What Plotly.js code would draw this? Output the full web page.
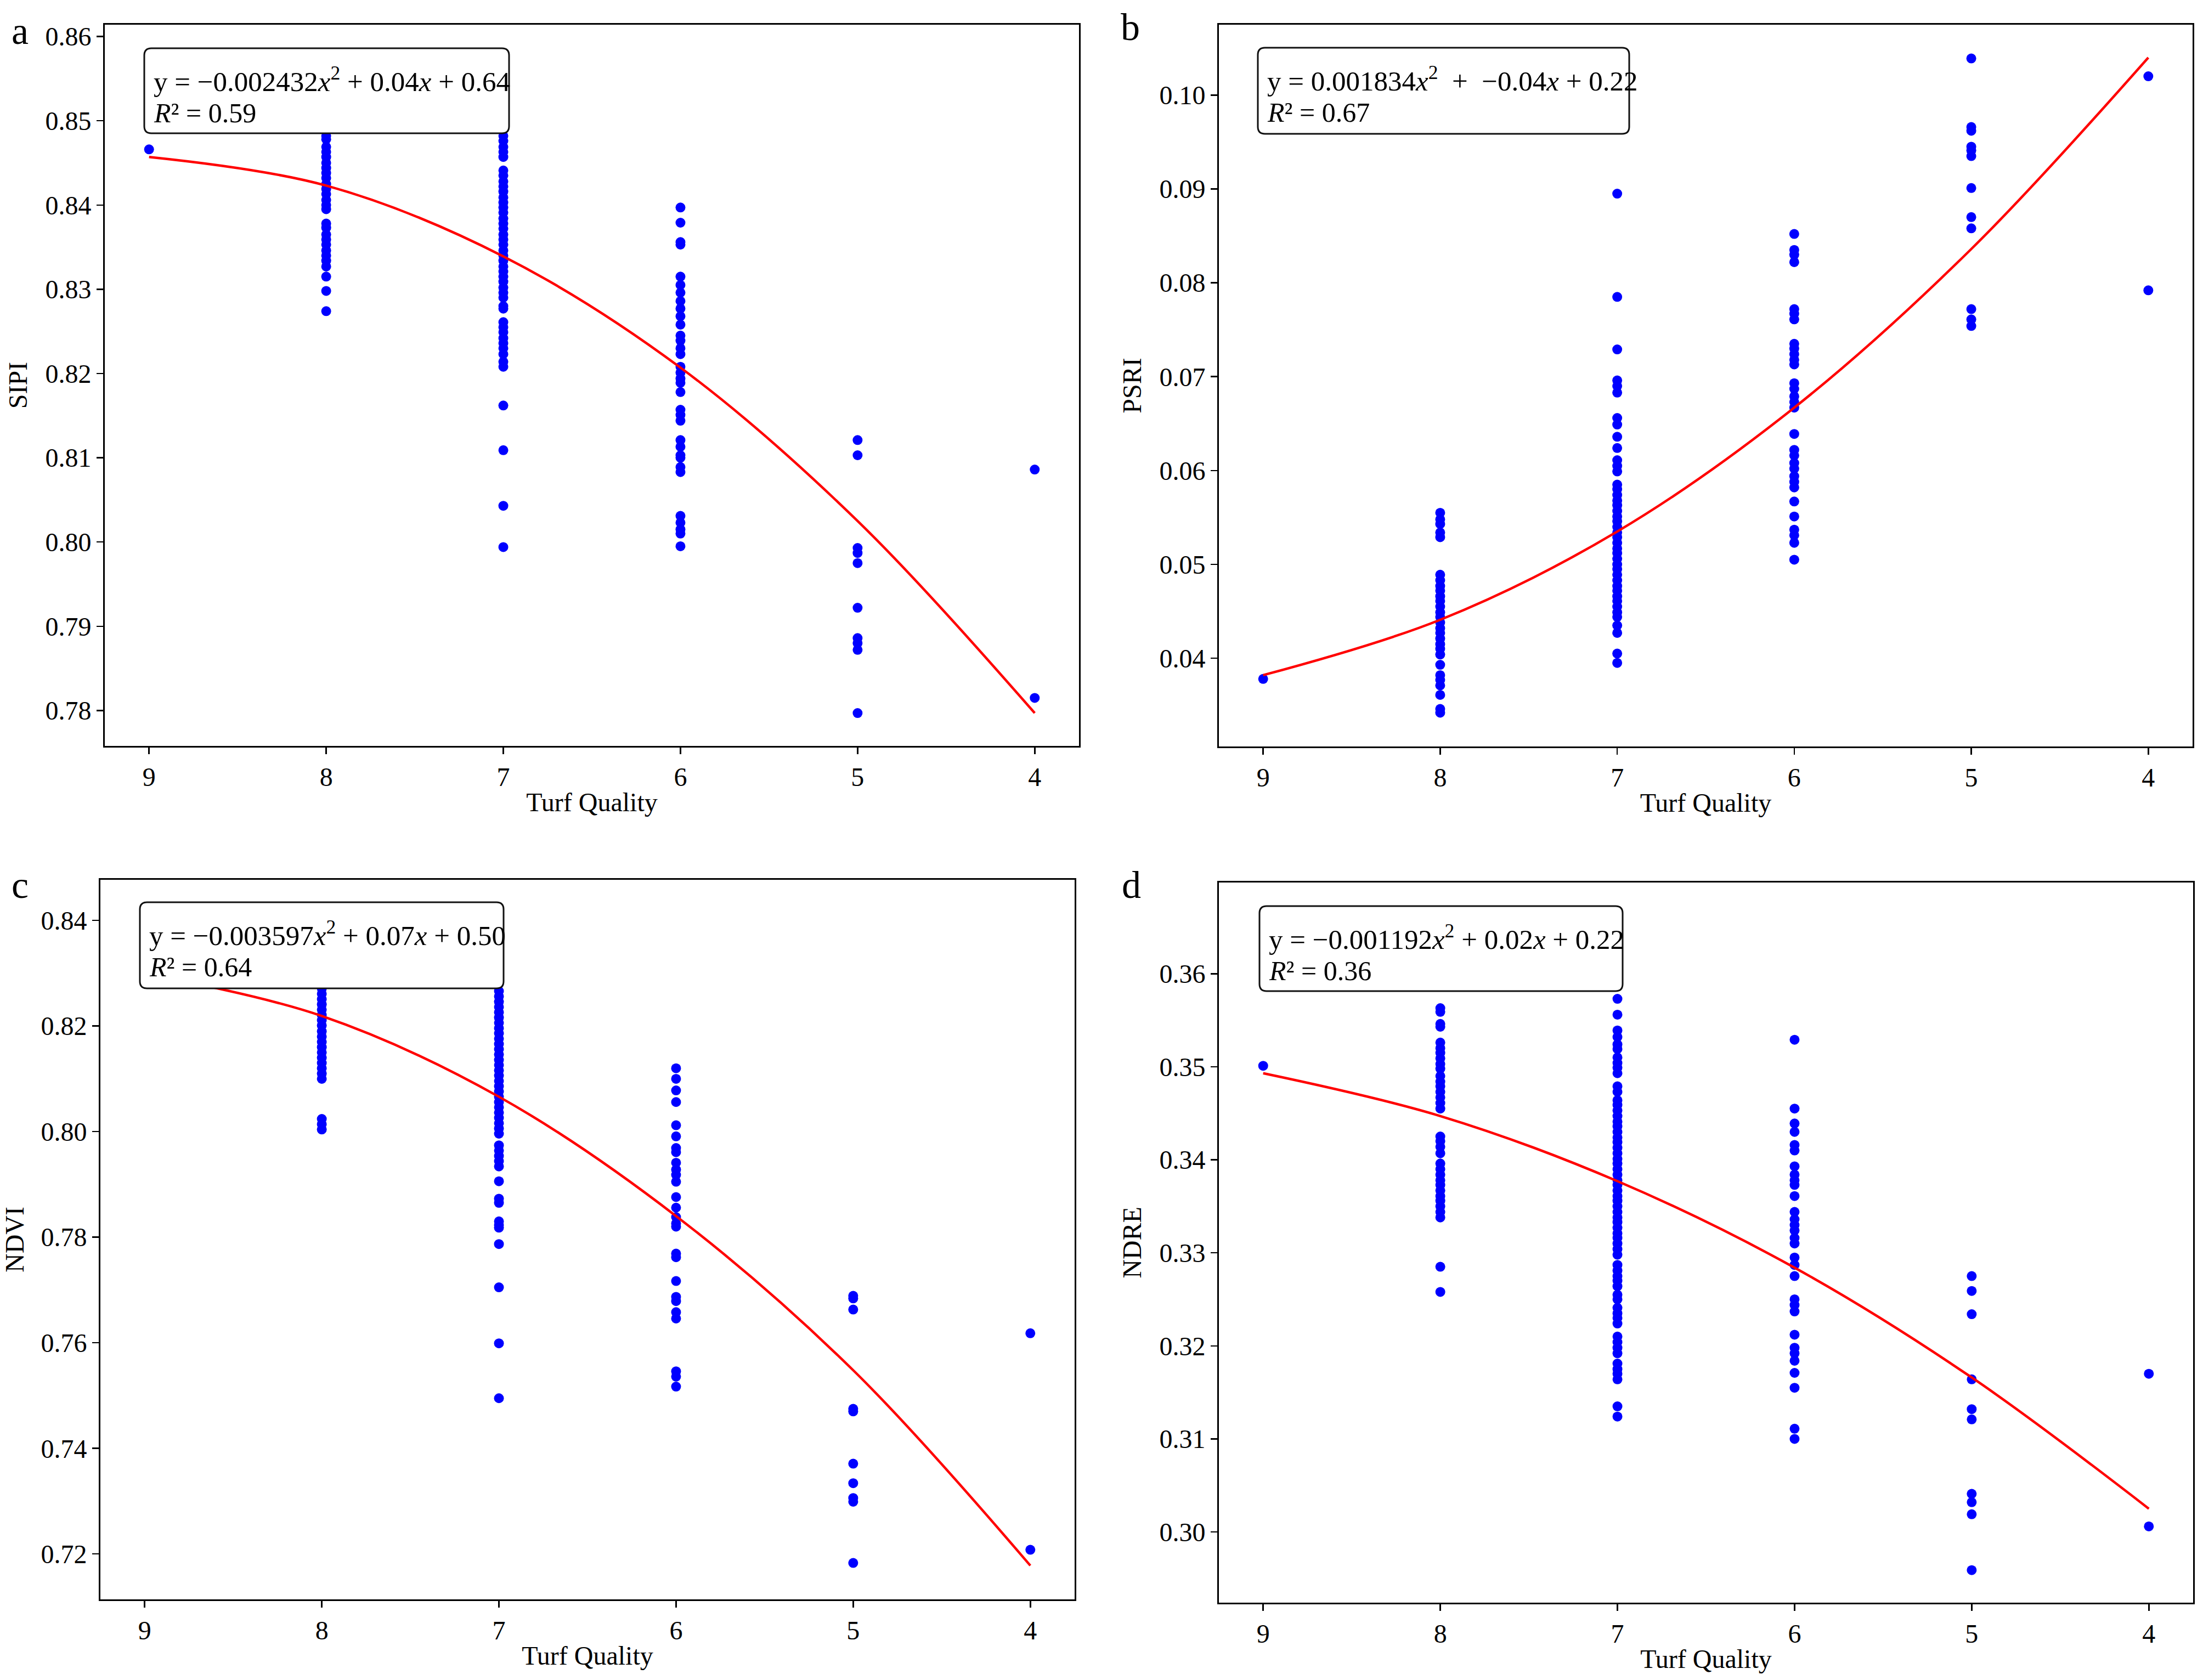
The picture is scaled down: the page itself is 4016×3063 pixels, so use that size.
<!DOCTYPE html>
<html>
<head>
<meta charset="utf-8">
<script src="https://cdn.plot.ly/plotly-3.0.1.min.js"></script>
<style>
  html, body { margin: 0; padding: 0; background: #fff; }
  #chart { width: 4016px; height: 3063px; }
</style>
</head>
<body>
<div id="chart"></div>
<script>
// turf quality levels on the x axis (drawn reversed, 9 -> 4)
const qualityLevels = [9, 8, 7, 6, 5, 4];

// a - SIPI
const sipi9 = [0.8466];
const sipi8 = [0.8505, 0.8495, 0.8482, 0.8478, 0.8469, 0.8463, 0.8457, 0.8450, 0.8444, 0.8438, 0.8432, 0.8425, 0.8419, 0.8413, 0.8406, 0.8400, 0.8395, 0.8378, 0.8373, 0.8365, 0.8359, 0.8353, 0.8346, 0.8340, 0.8334, 0.8327, 0.8315, 0.8298, 0.8274];
const sipi7 = [0.8505, 0.8495, 0.8482, 0.8476, 0.8469, 0.8463, 0.8457, 0.8441, 0.8435, 0.8428, 0.8422, 0.8416, 0.8409, 0.8403, 0.8397, 0.8391, 0.8384, 0.8378, 0.8372, 0.8365, 0.8359, 0.8353, 0.8346, 0.8340, 0.8334, 0.8327, 0.8321, 0.8315, 0.8309, 0.8302, 0.8296, 0.8290, 0.8280, 0.8277, 0.8261, 0.8255, 0.8249, 0.8242, 0.8236, 0.8230, 0.8223, 0.8214, 0.8208, 0.8162, 0.8109, 0.8043, 0.7994];
const sipi6 = [0.8397, 0.8379, 0.8356, 0.8353, 0.8315, 0.8305, 0.8296, 0.8286, 0.8277, 0.8268, 0.8258, 0.8245, 0.8239, 0.8230, 0.8223, 0.8208, 0.8201, 0.8194, 0.8189, 0.8178, 0.8157, 0.8151, 0.8144, 0.8121, 0.8113, 0.8103, 0.8100, 0.8089, 0.8083, 0.8031, 0.8023, 0.8015, 0.8010, 0.7995];
const sipi5 = [0.8121, 0.8103, 0.7993, 0.7987, 0.7975, 0.7922, 0.7886, 0.7880, 0.7872, 0.7797];
const sipi4 = [0.8086, 0.7815];
const sipiFit = [0.8457, 0.8423, 0.8339, 0.8207, 0.8025, 0.7797];

// b - PSRI
const psri9 = [0.0378];
const psri8 = [0.0555, 0.0548, 0.0543, 0.0534, 0.0529, 0.0489, 0.0483, 0.0477, 0.0472, 0.0466, 0.0461, 0.0455, 0.0449, 0.0444, 0.0438, 0.0432, 0.0427, 0.0421, 0.0415, 0.0410, 0.0404, 0.0393, 0.0382, 0.0377, 0.0371, 0.0361, 0.0346, 0.0342];
const psri7 = [0.0895, 0.0785, 0.0729, 0.0696, 0.0690, 0.0683, 0.0656, 0.0649, 0.0636, 0.0624, 0.0611, 0.0605, 0.0599, 0.0585, 0.0580, 0.0574, 0.0568, 0.0563, 0.0557, 0.0551, 0.0546, 0.0540, 0.0534, 0.0529, 0.0523, 0.0517, 0.0512, 0.0506, 0.0500, 0.0495, 0.0489, 0.0483, 0.0477, 0.0472, 0.0466, 0.0461, 0.0455, 0.0449, 0.0444, 0.0435, 0.0427, 0.0405, 0.0395];
const psri6 = [0.0852, 0.0835, 0.0830, 0.0822, 0.0772, 0.0767, 0.0761, 0.0735, 0.0730, 0.0724, 0.0718, 0.0713, 0.0693, 0.0687, 0.0679, 0.0673, 0.0667, 0.0639, 0.0622, 0.0616, 0.0608, 0.0602, 0.0594, 0.0588, 0.0582, 0.0567, 0.0551, 0.0537, 0.0531, 0.0523, 0.0505];
const psri5 = [0.1039, 0.0966, 0.0962, 0.0945, 0.0941, 0.0935, 0.0901, 0.0870, 0.0858, 0.0772, 0.0761, 0.0754];
const psri4 = [0.1020, 0.0792];
const psriFit = [0.0382, 0.0441, 0.0535, 0.0667, 0.0836, 0.1040];

// c - NDVI
const ndvi9 = [0.8310];
const ndvi8 = [0.8300, 0.8285, 0.8271, 0.8261, 0.8251, 0.8241, 0.8231, 0.8221, 0.8211, 0.8201, 0.8190, 0.8180, 0.8170, 0.8160, 0.8150, 0.8140, 0.8130, 0.8120, 0.8110, 0.8100, 0.8024, 0.8014, 0.8004];
const ndvi7 = [0.8300, 0.8280, 0.8266, 0.8256, 0.8246, 0.8236, 0.8226, 0.8216, 0.8206, 0.8196, 0.8186, 0.8176, 0.8166, 0.8156, 0.8146, 0.8136, 0.8126, 0.8116, 0.8106, 0.8096, 0.8086, 0.8076, 0.8066, 0.8056, 0.8046, 0.8036, 0.8026, 0.8016, 0.8006, 0.7996, 0.7974, 0.7964, 0.7954, 0.7944, 0.7934, 0.7906, 0.7873, 0.7865, 0.7830, 0.7823, 0.7818, 0.7787, 0.7705, 0.7599, 0.7495];
const ndvi6 = [0.8120, 0.8100, 0.8078, 0.8056, 0.8012, 0.7991, 0.7969, 0.7961, 0.7941, 0.7928, 0.7918, 0.7905, 0.7876, 0.7856, 0.7838, 0.7826, 0.7820, 0.7769, 0.7762, 0.7717, 0.7687, 0.7679, 0.7658, 0.7646, 0.7546, 0.7536, 0.7517];
const ndvi5 = [0.7689, 0.7684, 0.7663, 0.7475, 0.7470, 0.7371, 0.7334, 0.7306, 0.7299, 0.7183];
const ndvi4 = [0.7618, 0.7208];
const ndviFit = [0.8299, 0.8219, 0.8066, 0.7840, 0.7548, 0.7178];

// d - NDRE
const ndre9 = [0.3501];
const ndre8 = [0.3563, 0.3559, 0.3546, 0.3543, 0.3526, 0.3520, 0.3515, 0.3509, 0.3503, 0.3498, 0.3490, 0.3484, 0.3479, 0.3473, 0.3467, 0.3461, 0.3455, 0.3425, 0.3420, 0.3414, 0.3407, 0.3396, 0.3390, 0.3384, 0.3378, 0.3373, 0.3367, 0.3361, 0.3356, 0.3350, 0.3344, 0.3338, 0.3285, 0.3258];
const ndre7 = [0.3573, 0.3556, 0.3539, 0.3532, 0.3524, 0.3519, 0.3510, 0.3504, 0.3499, 0.3493, 0.3479, 0.3473, 0.3464, 0.3459, 0.3453, 0.3447, 0.3441, 0.3436, 0.3430, 0.3424, 0.3419, 0.3413, 0.3407, 0.3401, 0.3396, 0.3390, 0.3384, 0.3378, 0.3373, 0.3367, 0.3361, 0.3356, 0.3350, 0.3344, 0.3338, 0.3333, 0.3327, 0.3321, 0.3316, 0.3310, 0.3304, 0.3298, 0.3287, 0.3281, 0.3275, 0.3270, 0.3264, 0.3255, 0.3250, 0.3241, 0.3235, 0.3230, 0.3224, 0.3210, 0.3204, 0.3198, 0.3192, 0.3181, 0.3175, 0.3170, 0.3164, 0.3135, 0.3124];
const ndre6 = [0.3529, 0.3455, 0.3439, 0.3430, 0.3416, 0.3410, 0.3393, 0.3384, 0.3378, 0.3373, 0.3361, 0.3344, 0.3336, 0.3330, 0.3324, 0.3316, 0.3310, 0.3295, 0.3287, 0.3275, 0.3250, 0.3244, 0.3237, 0.3212, 0.3198, 0.3192, 0.3184, 0.3171, 0.3155, 0.3111, 0.3100];
const ndre5 = [0.3275, 0.3259, 0.3234, 0.3164, 0.3132, 0.3121, 0.3041, 0.3032, 0.3019, 0.2959];
const ndre4 = [0.3170, 0.3006];
const ndreFit = [0.3493, 0.3447, 0.3377, 0.3284, 0.3166, 0.3025];

const panelLetters = ["a", "b", "c", "d"];
const indexNames = ["SIPI", "PSRI", "NDVI", "NDRE"];
const fitEquations = [
    "y = \u22120.002432<i>x</i><sup>2</sup> + 0.04<i>x</i> + 0.64",
    "y = 0.001834<i>x</i><sup>2</sup>  +  \u22120.04<i>x</i> + 0.22",
    "y = \u22120.003597<i>x</i><sup>2</sup> + 0.07<i>x</i> + 0.50",
    "y = \u22120.001192<i>x</i><sup>2</sup> + 0.02<i>x</i> + 0.22"
];
const fitR2 = ["0.59", "0.67", "0.64", "0.36"];

const W = 4016, H = 3063;
const FONT = "Liberation Serif, Times New Roman, serif";

// pixel geometry of each panel: plot box, equation box, letter spot
const panels = [
    { cols: [sipi9, sipi8, sipi7, sipi6, sipi5, sipi4], fit: sipiFit,
      box: [191, 45, 1967, 1360], yRange: [0.7758, 0.8614], dtick: 0.01,
      eq: [263, 88, 928, 243], letter: [36, 56], yStand: 18 },
    { cols: [psri9, psri8, psri7, psri6, psri5, psri4], fit: psriFit,
      box: [2222, 45, 3997, 1361], yRange: [0.0306, 0.1075], dtick: 0.01,
      eq: [2293, 87, 2970, 244], letter: [2060, 50], yStand: 18 },
    { cols: [ndvi9, ndvi8, ndvi7, ndvi6, ndvi5, ndvi4], fit: ndviFit,
      box: [183, 1604, 1959, 2916], yRange: [0.7114, 0.8477], dtick: 0.02,
      eq: [255, 1645, 918, 1802], letter: [36, 1613], yStand: 20 },
    { cols: [ndre9, ndre8, ndre7, ndre6, ndre5, ndre4], fit: ndreFit,
      box: [2222, 1609, 3998, 2922], yRange: [0.2924, 0.3698], dtick: 0.01,
      eq: [2296, 1652, 2958, 1807], letter: [2062, 1613], yStand: 18 }
];

const fx = p => p / W;
const fy = p => 1 - p / H;

function roundedBox(b, r) {
    const x0 = fx(b[0]), x1 = fx(b[2]), y0 = fy(b[3]), y1 = fy(b[1]);
    const rx = r / W, ry = r / H;
    return "M " + (x0 + rx) + "," + y0 +
        " L " + (x1 - rx) + "," + y0 +
        " Q " + x1 + "," + y0 + " " + x1 + "," + (y0 + ry) +
        " L " + x1 + "," + (y1 - ry) +
        " Q " + x1 + "," + y1 + " " + (x1 - rx) + "," + y1 +
        " L " + (x0 + rx) + "," + y1 +
        " Q " + x0 + "," + y1 + " " + x0 + "," + (y1 - ry) +
        " L " + x0 + "," + (y0 + ry) +
        " Q " + x0 + "," + y0 + " " + (x0 + rx) + "," + y0 + " Z";
}

let data = [];
let layout = {
    width: W, height: H,
    margin: { l: 0, r: 0, t: 0, b: 0 },
    paper_bgcolor: "white", plot_bgcolor: "white",
    showlegend: false,
    font: { family: FONT, size: 48, color: "black" },
    shapes: [], annotations: []
};

panels.forEach((p, i) => {
    const n = i === 0 ? "" : String(i + 1);
    let xs = [], ys = [];
    p.cols.forEach((vals, k) => {
        vals.forEach(v => { xs.push(qualityLevels[k]); ys.push(v); });
    });

    data.push({
        x: xs, y: ys, xaxis: "x" + n, yaxis: "y" + n,
        type: "scatter", mode: "markers",
        marker: { color: "#0000ff", size: 18, line: { width: 0 } },
        hoverinfo: "skip"
    });
    data.push({
        x: qualityLevels, y: p.fit, xaxis: "x" + n, yaxis: "y" + n,
        type: "scatter", mode: "lines",
        line: { color: "#ff0000", width: 4.5, shape: "spline", smoothing: 1 },
        hoverinfo: "skip"
    });

    const common = {
        showline: true, mirror: true, linecolor: "black", linewidth: 3,
        ticks: "outside", ticklen: 12, tickwidth: 2.5, tickcolor: "black",
        showgrid: false, zeroline: false,
        tickfont: { family: FONT, size: 48, color: "black" }
    };
    layout["xaxis" + n] = Object.assign({}, common, {
        domain: [fx(p.box[0]), fx(p.box[2])],
        range: [9.25, 3.75], tickvals: qualityLevels,
        anchor: "y" + n,
        title: { text: "Turf Quality", standoff: 4, font: { family: FONT, size: 48, color: "black" } },
        automargin: false
    });
    layout["yaxis" + n] = Object.assign({}, common, {
        domain: [fy(p.box[3]), fy(p.box[1])],
        range: p.yRange, dtick: p.dtick, tick0: 0, tickformat: ".2f",
        anchor: "x" + n,
        title: { text: indexNames[i], standoff: p.yStand, font: { family: FONT, size: 48, color: "black" } },
        automargin: false
    });

    layout.shapes.push({
        type: "path", xref: "paper", yref: "paper", layer: "above",
        path: roundedBox(p.eq, 13),
        fillcolor: "white", line: { color: "#111", width: 3 }
    });

    const tx = fx(p.eq[0] + 15);
    layout.annotations.push(
        { xref: "paper", yref: "paper", x: tx, y: fy(p.eq[1] + 57),
          xanchor: "left", yanchor: "middle", showarrow: false,
          text: fitEquations[i], font: { family: FONT, size: 51, color: "black" } },
        { xref: "paper", yref: "paper", x: tx, y: fy(p.eq[1] + 118),
          xanchor: "left", yanchor: "middle", showarrow: false,
          text: "<i>R</i>\u00b2 = " + fitR2[i], font: { family: FONT, size: 50, color: "black" } },
        { xref: "paper", yref: "paper", x: fx(p.letter[0]), y: fy(p.letter[1]),
          xanchor: "center", yanchor: "middle", showarrow: false,
          text: panelLetters[i], font: { family: FONT, size: 70, color: "black" } }
    );
});

Plotly.newPlot("chart", data, layout, { displayModeBar: false, staticPlot: true });
</script>
</body>
</html>
